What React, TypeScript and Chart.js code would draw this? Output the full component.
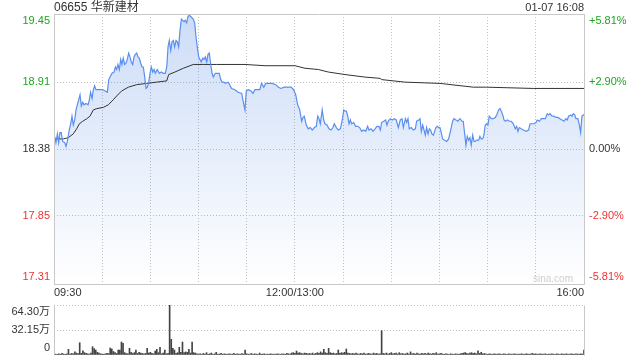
import React, { useEffect, useRef } from 'react';
import { Chart, registerables } from 'chart.js';

Chart.register(...registerables);

const FONT = '"Liberation Sans", Arial, "Noto Sans CJK SC", sans-serif';
const GREEN = '#1ea51e';
const RED = '#f03232';
const TEXT = '#333333';
const GRID = '#c0c0c0';
const FRAME = '#c8c8c8';
const LINE_BLUE = '#5a8ff0';
const AVG_COLOR = '#333333';
const VOL_COLOR = '#444444';

const stockTitle = '06655 华新建材';
const stampText = '01-07 16:08';
const watermark = 'sina.com';
const prevClose = 18.38;

const priceTicks = [17.31, 17.85, 18.38, 18.91, 19.45];
const pctTicks = [-5.81, -2.9, 0, 2.9, 5.81];
const pctLabels = ['-5.81%', '-2.90%', '0.00%', '+2.90%', '+5.81%'];
const timeTicks = [0, 30, 60, 90, 120, 150, 180, 210, 240, 270, 300, 330];
const timeLabels = ['09:30', '', '', '', '', '12:00/13:00', '', '', '', '', '', '16:00'];
const volTicks = [0, 32.15, 64.3];
const volLabels = ['0', '32.15万', '64.30万'];

// minutes since 09:30 (lunch break removed)
const priceTimes = [
  0, 1.2, 2.1, 2.9, 3.7, 4.5, 5.4, 6.7, 7.5, 8.3, 9.5, 10.4, 11.2, 12.0, 12.9, 13.7, 14.5, 15.4, 16.2, 17.0,
  17.9, 18.7, 19.9, 21.2, 22.0, 22.8, 23.7, 24.5, 25.3, 26.1, 27.0, 28.6, 30.3, 31.9, 33.2, 34.1, 34.9, 36.1, 37.4, 38.2,
  39.0, 39.8, 40.7, 41.5, 42.3, 43.1, 44.0, 44.8, 45.6, 46.5, 47.3, 48.1, 49.0, 49.8, 50.6, 51.5, 52.3, 53.1, 54.0, 54.8,
  55.6, 56.5, 57.3, 58.1, 59.0, 59.8, 60.6, 61.5, 62.3, 63.1, 64.3, 65.6, 66.8, 68.1, 69.3, 70.2, 71.0, 71.8, 72.7, 73.5,
  74.3, 75.1, 76.0, 76.8, 77.6, 78.4, 79.3, 80.1, 80.9, 81.7, 82.6, 83.4, 84.2, 85.1, 85.9, 86.7, 87.6, 88.4, 89.2, 90.1,
  90.9, 91.7, 92.6, 93.4, 94.2, 95.1, 95.9, 96.7, 97.6, 98.4, 99.2, 100.4, 101.7, 102.9, 103.8, 104.6, 105.8, 106.5, 108.5, 110.6,
  112.7, 114.7, 116.9, 117.9, 118.9, 119.7, 121.0, 122.7, 123.9, 125.1, 126.8, 128.1, 129.3, 130.6, 131.8, 133.9, 135.9, 138.0, 139.7, 141.3,
  143.4, 145.5, 147.6, 149.2, 150.5, 151.7, 153.0, 154.2, 155.0, 155.8, 157.1, 158.3, 159.6, 160.8, 162.1, 163.3, 164.2, 165.0, 165.8, 167.0,
  167.9, 168.7, 170.0, 171.2, 172.5, 173.7, 174.5, 175.8, 177.0, 178.3, 179.5, 180.4, 181.2, 182.0, 182.9, 183.7, 184.5, 185.3, 186.6, 187.8,
  189.1, 190.3, 191.6, 192.8, 194.1, 195.3, 196.1, 197.4, 198.6, 199.9, 201.1, 202.3, 203.2, 204.0, 205.3, 206.5, 207.3, 208.1, 209.4, 210.6,
  211.9, 213.1, 214.4, 215.6, 216.7, 217.5, 218.8, 219.6, 220.4, 221.2, 222.5, 223.7, 225.0, 225.8, 227.1, 227.9, 228.7, 229.6, 230.4, 231.2,
  232.0, 232.9, 233.7, 234.5, 235.3, 236.2, 237.0, 237.8, 238.6, 239.5, 240.3, 241.1, 242.0, 243.2, 244.5, 245.7, 247.0, 248.2, 249.0, 250.3,
  251.5, 252.8, 254.0, 254.8, 255.7, 256.5, 257.3, 258.2, 259.0, 259.8, 260.7, 261.5, 262.3, 263.2, 264.4, 265.2, 266.0, 266.9, 267.7, 268.5,
  269.4, 270.2, 271.0, 272.3, 273.5, 274.8, 275.6, 276.9, 277.7, 278.5, 279.4, 280.2, 281.0, 282.2, 283.5, 284.7, 286.0, 287.2, 288.1, 288.9,
  289.7, 290.9, 292.2, 293.9, 295.5, 296.4, 297.6, 298.8, 300.1, 300.9, 302.2, 303.4, 304.6, 305.9, 307.1, 308.0, 308.8, 310.1, 311.3, 312.6,
  313.8, 315.0, 316.3, 317.5, 318.8, 319.6, 320.4, 321.7, 322.5, 323.3, 324.2, 325.0, 326.2, 327.1, 327.9, 328.7, 329.6, 330,
];

const prices = [
  18.50, 18.43, 18.50, 18.43, 18.51, 18.51, 18.44, 18.43, 18.40, 18.44, 18.53, 18.58, 18.64, 18.57, 18.61, 18.69, 18.73, 18.77, 18.81, 18.72,
  18.75, 18.73, 18.74, 18.73, 18.77, 18.83, 18.78, 18.85, 18.88, 18.85, 18.85, 18.85, 18.85, 18.84, 18.83, 18.93, 18.95, 18.98, 18.99, 19.03,
  19.01, 19.05, 19.01, 19.09, 19.05, 19.10, 19.05, 19.06, 19.09, 19.14, 19.11, 19.07, 19.05, 19.11, 19.13, 19.14, 19.11, 19.10, 19.06, 19.03,
  19.03, 18.95, 18.86, 18.87, 18.91, 18.98, 19.03, 18.99, 19.01, 18.98, 19.01, 18.98, 18.99, 18.98, 18.98, 19.03, 19.19, 19.24, 19.16, 19.23,
  19.24, 19.19, 19.24, 19.23, 19.19, 19.31, 19.41, 19.40, 19.39, 19.40, 19.38, 19.43, 19.44, 19.43, 19.42, 19.41, 19.38, 19.27, 19.19, 19.11,
  19.09, 19.07, 19.10, 19.09, 19.11, 19.07, 19.13, 19.14, 19.05, 18.98, 18.95, 18.98, 18.98, 18.98, 18.93, 18.91, 18.91, 18.90, 18.91, 18.86,
  18.85, 18.83, 18.82, 18.75, 18.69, 18.84, 18.85, 18.84, 18.82, 18.85, 18.85, 18.85, 18.90, 18.87, 18.90, 18.90, 18.90, 18.89, 18.87, 18.86,
  18.87, 18.87, 18.87, 18.85, 18.81, 18.73, 18.69, 18.60, 18.63, 18.64, 18.57, 18.54, 18.55, 18.53, 18.55, 18.56, 18.64, 18.62, 18.58, 18.69,
  18.61, 18.58, 18.57, 18.54, 18.53, 18.55, 18.58, 18.55, 18.53, 18.54, 18.61, 18.69, 18.68, 18.68, 18.64, 18.58, 18.61, 18.58, 18.59, 18.56,
  18.56, 18.55, 18.52, 18.53, 18.52, 18.56, 18.53, 18.54, 18.52, 18.54, 18.56, 18.56, 18.53, 18.59, 18.60, 18.61, 18.57, 18.60, 18.62, 18.61,
  18.62, 18.61, 18.55, 18.61, 18.62, 18.55, 18.62, 18.59, 18.62, 18.54, 18.55, 18.53, 18.54, 18.60, 18.61, 18.62, 18.52, 18.57, 18.53, 18.49,
  18.55, 18.50, 18.54, 18.53, 18.50, 18.49, 18.52, 18.55, 18.56, 18.55, 18.55, 18.51, 18.46, 18.45, 18.44, 18.46, 18.53, 18.60, 18.62, 18.61,
  18.60, 18.62, 18.60, 18.60, 18.50, 18.41, 18.48, 18.45, 18.47, 18.41, 18.49, 18.44, 18.44, 18.45, 18.45, 18.48, 18.46, 18.46, 18.49, 18.57,
  18.58, 18.57, 18.64, 18.62, 18.62, 18.63, 18.65, 18.69, 18.70, 18.68, 18.65, 18.61, 18.60, 18.61, 18.60, 18.60, 18.58, 18.54, 18.56, 18.52,
  18.55, 18.54, 18.53, 18.52, 18.53, 18.58, 18.58, 18.58, 18.59, 18.61, 18.60, 18.62, 18.62, 18.62, 18.66, 18.65, 18.66, 18.64, 18.64, 18.63,
  18.63, 18.62, 18.61, 18.60, 18.62, 18.61, 18.64, 18.65, 18.64, 18.66, 18.65, 18.62, 18.62, 18.57, 18.51, 18.64, 18.65, 18.65,
];

const avgTimes = [
  0, 5.8, 8.9, 12.0, 14.1, 15.8, 17.9, 20.4, 22.4, 24.5, 26.6, 30.7, 33.8, 36.9, 39.0, 42.1, 46.3, 51.5, 57.7, 63.9,
  70.2, 71.4, 75.3, 80.5, 84.7, 86.7, 93.0, 101.3, 109.6, 118.9, 131.4, 150.0, 156.3, 164.6, 170.8, 181.2, 193.6, 203.0, 204.0, 218.5,
  240.3, 261.1, 269.4, 298.4, 330,
];
const avgPrices = [
  18.46, 18.46, 18.47, 18.50, 18.54, 18.58, 18.60, 18.62, 18.64, 18.69, 18.70, 18.71, 18.73, 18.77, 18.80, 18.84, 18.87, 18.89, 18.90, 18.91,
  18.92, 18.97, 18.99, 19.02, 19.04, 19.05, 19.05, 19.05, 19.05, 19.05, 19.04, 19.04, 19.02, 19.01, 18.99, 18.97, 18.95, 18.94, 18.93, 18.91,
  18.90, 18.87, 18.87, 18.86, 18.86,
];

// per-minute volume, in 万 shares
const volumes = [
  8.6, 1.2, 0.8, 1.5, 1.0, 2.0, 1.2, 0.9, 1.4, 7.3,
  1.2, 2.0, 1.5, 4.2, 2.5, 1.8, 15.8, 2.2, 5.5, 3.0,
  2.0, 1.5, 1.2, 2.4, 10.7, 8.1, 6.4, 3.5, 2.5, 1.5,
  1.2, 1.0, 1.5, 2.0, 1.8, 9.0, 7.7, 4.5, 3.0, 2.0,
  6.4, 6.4, 16.7, 15.0, 3.0, 2.0, 1.5, 8.6, 3.5, 2.0,
  3.0, 6.4, 2.0, 3.5, 2.5, 2.0, 1.5, 2.0, 8.6, 2.5,
  3.5, 2.0, 1.5, 5.1, 7.3, 3.0, 9.9, 1.5, 2.5, 6.4,
  1.5, 2.0, 64.3, 20.2, 8.6, 6.4, 2.0, 3.0, 9.9, 3.5,
  16.7, 3.0, 4.0, 3.5, 7.3, 2.5, 16.7, 3.0, 2.5, 1.5,
  1.2, 1.5, 1.0, 2.0, 1.2, 3.0, 1.0, 1.5, 2.5, 1.0,
  1.5, 3.5, 1.0, 1.2, 2.0, 1.0, 1.5, 1.2, 1.0, 1.5,
  1.2, 1.0, 2.0, 1.0, 1.5, 1.2, 1.0, 1.8, 1.2, 6.4,
  1.5, 1.0, 1.2, 2.0, 1.0, 1.5, 1.2, 1.0, 2.5, 1.0,
  1.2, 1.5, 1.0, 1.2, 1.0, 1.5, 1.0, 1.2, 1.0, 1.5,
  1.2, 1.0, 1.5, 1.2, 1.0, 2.0, 1.5, 1.2, 2.5, 3.0,
  2.0, 5.1, 2.5, 3.0, 2.0, 1.5, 2.5, 2.0, 1.5, 2.0,
  1.5, 2.5, 1.2, 2.0, 3.0, 2.0, 4.0, 2.5, 7.3, 3.0,
  2.0, 8.6, 3.0, 2.0, 2.5, 1.5, 2.0, 6.4, 2.0, 3.0,
  2.5, 3.5, 7.7, 2.5, 2.0, 1.5, 2.0, 1.5, 2.5, 1.5,
  1.2, 2.0, 1.5, 2.5, 1.2, 1.5, 2.0, 1.5, 1.2, 2.5,
  1.5, 2.0, 1.2, 1.5, 31.3, 2.0, 1.5, 2.5, 1.2, 2.0,
  3.0, 1.5, 2.0, 2.5, 1.2, 3.0, 1.5, 2.0, 1.2, 1.5,
  2.5, 1.2, 4.0, 1.5, 2.0, 1.2, 2.5, 1.5, 1.2, 2.0,
  1.5, 2.0, 1.2, 2.5, 1.5, 1.2, 2.0, 1.5, 3.0, 1.2,
  1.5, 2.0, 1.2, 1.0, 1.5, 1.2, 1.0, 1.5, 1.2, 1.0,
  1.5, 1.2, 1.0, 1.5, 2.0, 2.5, 3.0, 2.0, 1.5, 2.5,
  3.0, 2.0, 2.5, 1.5, 5.5, 2.0, 3.5, 1.5, 2.0, 1.2,
  1.0, 1.5, 1.2, 1.0, 1.5, 1.2, 1.0, 1.5, 1.2, 1.0,
  1.5, 1.2, 1.0, 1.5, 1.2, 1.0, 1.2, 1.5, 1.0, 1.2,
  1.0, 1.5, 1.2, 1.0, 1.5, 1.2, 1.0, 1.5, 2.0, 1.2,
  1.5, 1.0, 1.2, 1.5, 1.0, 1.2, 1.5, 1.0, 1.2, 1.0,
  1.5, 1.2, 1.0, 1.5, 1.2, 1.0, 1.5, 1.2, 1.0, 1.5,
  1.2, 1.0, 1.5, 1.2, 1.0, 1.5, 1.2, 1.0, 1.5, 1.2,
  6.4,
];

function edgeLabel(text: string, index: number, count: number): string | string[] {
  if (index === count - 1) return ['', text];
  if (index === 0) return [text, ''];
  return text;
}

function fixWidth(width: number) {
  return (scale: any) => {
    scale.width = width;
    scale.paddingTop = 0;
    scale.paddingBottom = 0;
    scale.paddingLeft = 0;
    scale.paddingRight = 0;
  };
}

const framePlugin = {
  id: 'frame',
  afterDraw(chart: any, _args: any, opts: any) {
    const { ctx, chartArea: a } = chart;
    const l = Math.round(a.left) + 0.5;
    const r = Math.round(a.right) + 0.5;
    const t = Math.round(a.top) + 0.5;
    const b = Math.round(a.bottom) + 0.5;
    ctx.save();
    ctx.strokeStyle = FRAME;
    ctx.lineWidth = 1;
    ctx.beginPath();
    if (opts.full) {
      ctx.rect(l, t, r - l, b - t);
    } else {
      ctx.moveTo(l, t);
      ctx.lineTo(l, b);
      ctx.moveTo(r, t);
      ctx.lineTo(r, b);
    }
    ctx.stroke();
    ctx.restore();
  },
};

export default function App() {
  const mainRef = useRef<HTMLCanvasElement>(null);
  const volRef = useRef<HTMLCanvasElement>(null);

  useEffect(() => {
    Chart.defaults.font.family = FONT;
    Chart.defaults.font.size = 11;

    const priceColor = (v: number) =>
      v > prevClose + 1e-6 ? GREEN : v < prevClose - 1e-6 ? RED : TEXT;

    const main = new Chart(mainRef.current!, {
      type: 'line',
      data: {
        datasets: [
          {
            label: 'price',
            data: priceTimes.map((t, i) => ({ x: t, y: prices[i] })),
            borderColor: LINE_BLUE,
            borderWidth: 1.2,
            pointRadius: 0,
            tension: 0,
            fill: 'start',
            backgroundColor: (ctx: any) => {
              const a = ctx.chart.chartArea;
              if (!a) return 'rgba(60,120,225,0.2)';
              const g = ctx.chart.ctx.createLinearGradient(0, a.top, 0, a.bottom);
              g.addColorStop(0, 'rgba(60,120,225,0.26)');
              g.addColorStop(1, 'rgba(60,120,225,0.0)');
              return g;
            },
          },
          {
            label: 'avg',
            data: avgTimes.map((t, i) => ({ x: t, y: avgPrices[i] })),
            borderColor: AVG_COLOR,
            borderWidth: 1,
            pointRadius: 0,
            tension: 0,
            fill: false,
          },
        ],
      },
      options: {
        animation: false,
        responsive: false,
        events: [],
        layout: { padding: { top: 14, left: 0, right: 0, bottom: 0 } },
        plugins: {
          legend: { display: false },
          tooltip: { enabled: false },
          title: { display: false },
          filler: { drawTime: 'beforeDatasetsDraw' },
          frame: { full: true },
        } as any,
        scales: {
          x: {
            type: 'linear',
            min: 0,
            max: 330,
            afterBuildTicks: (s: any) => {
              s.ticks = timeTicks.map((v) => ({ value: v }));
            },
            afterFit: (s: any) => {
              s.height = 16;
              s.paddingLeft = 0;
              s.paddingRight = 0;
            },
            ticks: {
              autoSkip: false,
              maxRotation: 0,
              minRotation: 0,
              align: 'inner',
              padding: 2,
              color: TEXT,
              font: { size: 11 },
              callback: (_v: any, i: number) => timeLabels[i],
            },
            grid: { color: GRID, drawTicks: false, lineWidth: 1 },
            border: { display: false, dash: [1, 2] },
          },
          y: {
            type: 'linear',
            position: 'left',
            min: priceTicks[0],
            max: priceTicks[priceTicks.length - 1],
            afterBuildTicks: (s: any) => {
              s.ticks = priceTicks.map((v) => ({ value: v }));
            },
            afterFit: fixWidth(54),
            ticks: {
              autoSkip: false,
              padding: 4,
              font: { size: 11 },
              color: (c: any) => priceColor(c.tick.value),
              callback: (v: any, i: number, arr: any[]) =>
                edgeLabel(Number(v).toFixed(2), i, arr.length),
            },
            grid: { color: GRID, drawTicks: false, lineWidth: 1 },
            border: { display: false, dash: [1, 2] },
          },
          yr: {
            type: 'linear',
            position: 'right',
            min: pctTicks[0],
            max: pctTicks[pctTicks.length - 1],
            afterBuildTicks: (s: any) => {
              s.ticks = pctTicks.map((v) => ({ value: v }));
            },
            afterFit: fixWidth(56),
            ticks: {
              autoSkip: false,
              padding: 5,
              font: { size: 11 },
              color: (c: any) => (c.tick.value > 0 ? GREEN : c.tick.value < 0 ? RED : TEXT),
              callback: (_v: any, i: number, arr: any[]) => edgeLabel(pctLabels[i], i, arr.length),
            },
            grid: { display: false, drawTicks: false },
            border: { display: false },
          },
        },
      } as any,
      plugins: [framePlugin],
    });

    const vol = new Chart(volRef.current!, {
      type: 'bar',
      data: {
        datasets: [
          {
            label: 'volume',
            data: volumes.map((v, i) => ({ x: i, y: v })),
            backgroundColor: VOL_COLOR,
            barThickness: 1,
            borderWidth: 0,
          },
        ],
      },
      options: {
        animation: false,
        responsive: false,
        events: [],
        layout: { padding: { top: 5, left: 0, right: 56, bottom: 5 } },
        plugins: {
          legend: { display: false },
          tooltip: { enabled: false },
          frame: { full: false },
        } as any,
        scales: {
          x: {
            type: 'linear',
            min: 0,
            max: 330,
            offset: false,
            display: false,
          },
          y: {
            type: 'linear',
            position: 'left',
            min: volTicks[0],
            max: volTicks[volTicks.length - 1],
            afterBuildTicks: (s: any) => {
              s.ticks = volTicks.map((v) => ({ value: v }));
            },
            afterFit: fixWidth(54),
            ticks: {
              autoSkip: false,
              padding: 4,
              font: { size: 11 },
              color: TEXT,
              callback: (_v: any, i: number, arr: any[]) => edgeLabel(volLabels[i], i, arr.length),
            },
            grid: {
              drawTicks: false,
              lineWidth: 1,
              color: (c: any) => (c.tick && c.tick.value === 0 ? 'rgba(0,0,0,0)' : GRID),
            },
            border: { display: false, dash: [1, 2] },
          },
        },
      } as any,
      plugins: [framePlugin],
    });

    return () => {
      main.destroy();
      vol.destroy();
    };
  }, []);

  const textBase: React.CSSProperties = {
    position: 'absolute',
    fontFamily: FONT,
    whiteSpace: 'nowrap',
    color: TEXT,
  };

  return (
    <div
      style={{
        position: 'absolute',
        left: 0,
        top: 0,
        width: 640,
        height: 360,
        background: '#ffffff',
        overflow: 'hidden',
      }}
    >
      <canvas ref={mainRef} width={640} height={300} style={{ position: 'absolute', left: 0, top: 0 }} />
      <canvas ref={volRef} width={640} height={60} style={{ position: 'absolute', left: 0, top: 300 }} />
      <div style={{ ...textBase, left: 54, top: 0, fontSize: 12, lineHeight: '14px' }}>{stockTitle}</div>
      <div style={{ ...textBase, right: 56, top: 0, fontSize: 11, lineHeight: '14px' }}>{stampText}</div>
      <div style={{ ...textBase, right: 67, top: 273, fontSize: 10, lineHeight: '12px', color: '#cfcfcf' }}>
        {watermark}
      </div>
    </div>
  );
}
